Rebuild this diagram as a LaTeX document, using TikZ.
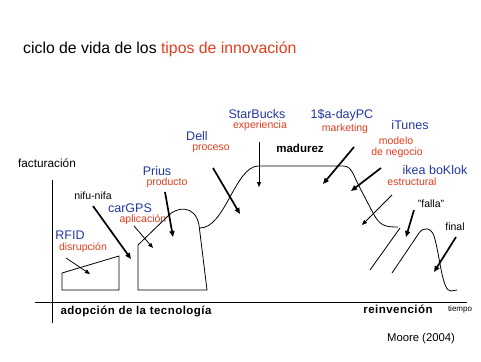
\documentclass[tikz,border=0pt]{standalone}
\usepackage{fontspec}
\setmainfont{Liberation Sans}
\usetikzlibrary{arrows.meta}
\definecolor{lblue}{RGB}{35,55,160}
\definecolor{lred}{RGB}{225,60,30}
\begin{document}
\begin{tikzpicture}[x=1pt,y=-1pt,
  bl/.style={text=lblue,font=\fontsize{12.5}{13}\selectfont,inner sep=0pt,text height=9pt,text depth=1pt},
  rd/.style={text=lred,font=\fontsize{10.5}{11}\selectfont,inner sep=0pt,text height=7.5pt,text depth=1pt},
  bk/.style={text=black,font=\fontsize{10.5}{11}\selectfont,inner sep=0pt,text height=7.5pt,text depth=1pt},
  bd/.style={text=black,font=\bfseries\fontsize{11.5}{12}\selectfont,inner sep=0pt,text height=8.5pt,text depth=1pt},
  curve/.style={draw=black,line width=0.8pt},
  thinarr/.style={-{Triangle[length=5pt,width=4pt]},line width=0.8pt},
  thickarr/.style={-{Triangle[length=6pt,width=5pt]},line width=1.7pt}]
\useasboundingbox (0,0) rectangle (481,361);
% title
\node[anchor=west,inner sep=0pt,font=\fontsize{15.8}{16}\selectfont] (title) at (23,49) {ciclo de vida de los \textcolor{lred}{tipos de innovación}};
% axes
\coordinate (ytop) at (52,180);
\coordinate (ybot) at (52,323);
\coordinate (xl) at (35,302);
\coordinate (xr) at (467,302);
\draw[curve] (ytop) -- (ybot);
\draw[curve] (xl) -- (xr);
\node[inner sep=0pt,font=\fontsize{11.8}{12}\selectfont] (fact) at (47,163) {facturación};
\node[bd,font=\bfseries\fontsize{11.5}{12}\selectfont\addfontfeature{LetterSpace=4}] (adop) at (136,311) {adopción de la tecnología};
\node[bd,font=\bfseries\fontsize{11.5}{12}\selectfont\addfontfeature{LetterSpace=4}] (rein) at (398,310) {reinvención};
\node[inner sep=0pt,font=\fontsize{8}{9}\selectfont] (tiempo) at (460,309) {tiempo};
\node[inner sep=0pt,font=\fontsize{11.3}{12}\selectfont] (moore) at (421,339) {Moore (2004)};
% labels
\node[bl] (rfid) at (70,235) {RFID};
\node[rd] (disr) at (83,247) {disrupción};
\node[bk] (nifu) at (93,196) {nifu-nifa};
\node[bl] (cargps) at (130,208) {carGPS};
\node[rd] (aplic) at (143,219) {aplicación};
\node[bl] (prius) at (157,171) {Prius};
\node[rd] (prod) at (167,182) {producto};
\node[bl] (dell) at (197,136) {Dell};
\node[rd] (proc) at (211,147) {proceso};
\node[bl] (starb) at (257,114) {StarBucks};
\node[rd] (exper) at (260,125) {experiencia};
\node[bd] (madur) at (300,149) {madurez};
\node[bl] (dayPC) at (342,114) {1\$a-dayPC};
\node[rd] (mark) at (345,128) {marketing};
\node[bl] (itunes) at (410,125) {iTunes};
\node[rd] (model) at (396,141) {modelo};
\node[rd] (negoc) at (397,152) {de negocio};
\node[bl] (ikea) at (435,170) {ikea boKlok};
\node[rd] (estr) at (412,182) {estructural};
\node[bk] (falla) at (431,204) {"falla"};
\node[bk] (final) at (455,227) {final};
% shapes
\draw[curve] (62,273) -- (119,256) -- (119,290) -- (62,290) -- cycle;
\draw[curve] (138,290) -- (138,245) -- (168,216) .. controls (176,207) and (195,204) .. (199,225) -- (207,290) -- cycle;
\draw[curve] (200,228) .. controls (225,228) and (235,167) .. (258,166) -- (343,166)
  .. controls (352,166) and (353,175) .. (360,188) -- (373,213)
  .. controls (380,226) and (385,227) .. (398,227);
\draw[curve] (370,270) -- (400,228);
\draw[curve] (392,273) -- (419,233) .. controls (423,227) and (431,227) .. (434,236)
  .. controls (440,255) and (442,292) .. (451,291) -- (457,290);
% arrows
\coordinate (a1s) at (66,258); \coordinate (a1e) at (90,274);
\coordinate (a2s) at (93,206); \coordinate (a2e) at (131,259);
\coordinate (a3s) at (134,226); \coordinate (a3e) at (153,248);
\coordinate (a4s) at (165,192); \coordinate (a4e) at (173,237);
\coordinate (a5s) at (213,168); \coordinate (a5e) at (240,214);
\coordinate (a6s) at (259,142); \coordinate (a6e) at (259,187);
\coordinate (a7s) at (354,147); \coordinate (a7e) at (323,184);
\coordinate (a8s) at (381,168); \coordinate (a8e) at (351,191);
\coordinate (a9s) at (392,195); \coordinate (a9e) at (362,225);
\coordinate (a10s) at (414,210); \coordinate (a10e) at (406,237);
\coordinate (a11s) at (456,237); \coordinate (a11e) at (434,272);
\draw[thinarr] (a1s) -- (a1e);
\draw[thickarr] (a2s) -- (a2e);
\draw[thinarr] (a3s) -- (a3e);
\draw[thickarr] (a4s) -- (a4e);
\draw[thickarr] (a5s) -- (a5e);
\draw[thinarr] (a6s) -- (a6e);
\draw[thickarr] (a7s) -- (a7e);
\draw[thickarr] (a8s) -- (a8e);
\draw[thinarr] (a9s) -- (a9e);
\draw[thickarr] (a10s) -- (a10e);
\draw[thickarr] (a11s) -- (a11e);
\end{tikzpicture}
\end{document}
